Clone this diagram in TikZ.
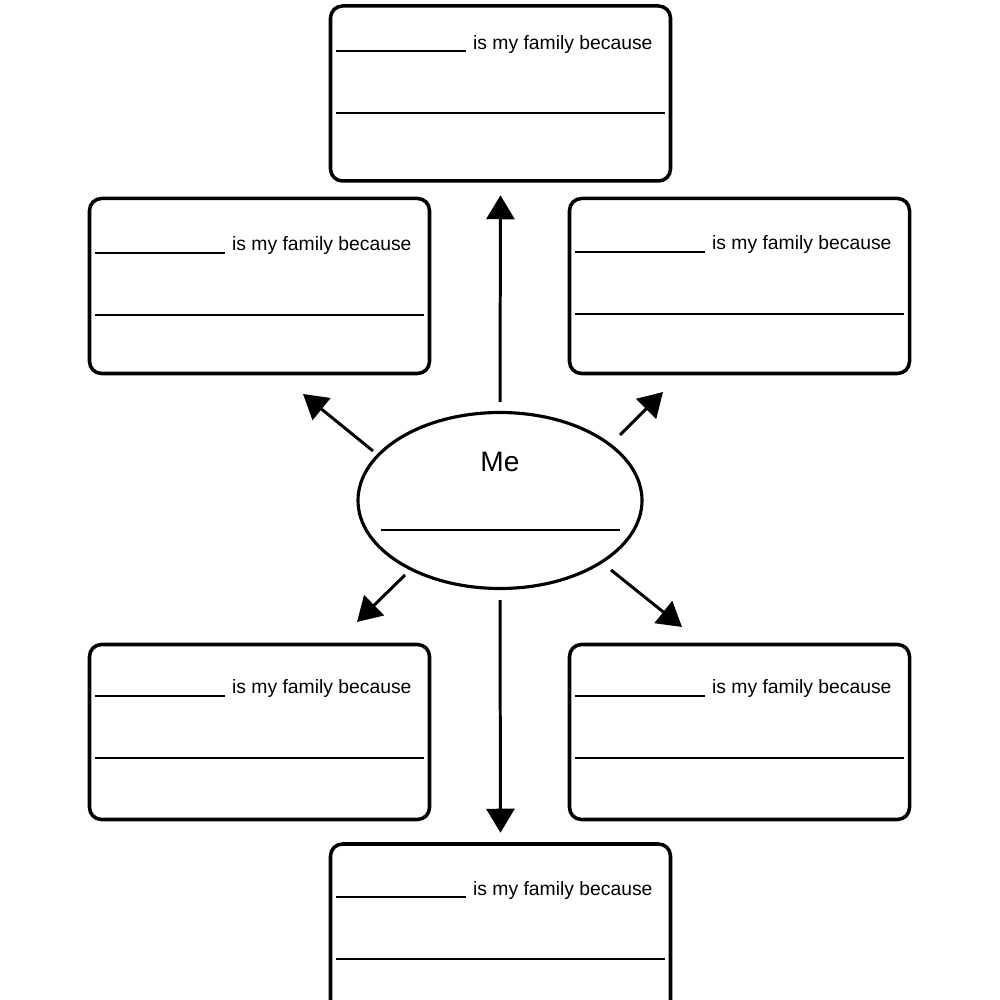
\documentclass[tikz,border=0pt]{standalone}
\usepackage{fontspec}
\setmainfont{Liberation Sans}
\usetikzlibrary{arrows.meta,positioning}
\usetikzlibrary{calc}
\usetikzlibrary{shapes.geometric}

\tikzset{
  card/.style = {draw, line width=2pt, rounded corners=0.24cm, minimum width=6.8cm, minimum height=3.5cm, inner sep=0},
  blank/.style = {line width=1.1pt},
  link/.style = {line width=1.7pt, -{Triangle[length=0.48cm, width=0.56cm]}},
}

\begin{document}
\begin{tikzpicture}

        % page frame
        \useasboundingbox (0,0) rectangle (20,20);
        \fill[white] (0,0) rectangle (20,20);
        \clip (0,0) rectangle (20,20);

        % the six cards
        \node[card] (top) at (10.01,18.13) {};
        \node[card] (lm) at (5.19,14.28) {};
        \node[card] (rm) at (14.79,14.28) {};
        \node[card] (ll) at (5.19,5.36) {};
        \node[card] (rl) at (14.79,5.36) {};
        \node[card] (bot) at (10.01,1.37) {};

        % blanks and text inside each card
        \foreach \nm/\drop in {top/0.94, lm/1.12, rm/1.10, ll/1.06, rl/1.06, bot/1.10} {
          \draw[blank] ($(\nm.north west)+(0.15,-\drop)$) -- ++(2.6,0);
          \node[anchor=base west, inner sep=0, font=\fontsize{11}{13}\selectfont] (\nm-txt) at ($(\nm.north west)+(2.88,-\drop+0.04)$) {is my family because};
          \draw[blank] ($(\nm.north west)+(0.15,-\drop-1.24)$) -- ($(\nm.north east)+(-0.15,-\drop-1.24)$);
        }

        % centre ellipse
        \node[ellipse, draw, line width=1.8pt, minimum width=5.68cm, minimum height=3.52cm, inner sep=0] (me) at (10,9.99) {};
        \node[anchor=base, inner sep=0, font=\fontsize{16}{19}\selectfont] (me-txt) at (10,10.56) {Me};
        \draw[line width=0.7pt] (7.62,9.40) -- (12.4,9.40);

        % arrows
        \draw[link, shorten <=0.18cm, shorten >=0.25cm] (me.north) -- (top.south);
        \draw[link, shorten <=0.2cm, shorten >=0.19cm] (me.south) -- (bot.north);

        \coordinate (ul-s) at (7.46,10.98);
        \coordinate (ul-e) at (6.06,12.12);
        \coordinate (ur-s) at (12.4,11.3);
        \coordinate (ur-e) at (13.26,12.16);
        \coordinate (dl-s) at (8.1,8.5);
        \coordinate (dl-e) at (7.14,7.56);
        \coordinate (dr-s) at (12.22,8.6);
        \coordinate (dr-e) at (13.64,7.46);

        \draw[link] (ul-s) -- (ul-e);
        \draw[link] (ur-s) -- (ur-e);
        \draw[link] (dl-s) -- (dl-e);
        \draw[link] (dr-s) -- (dr-e);

\end{tikzpicture}
\end{document}
